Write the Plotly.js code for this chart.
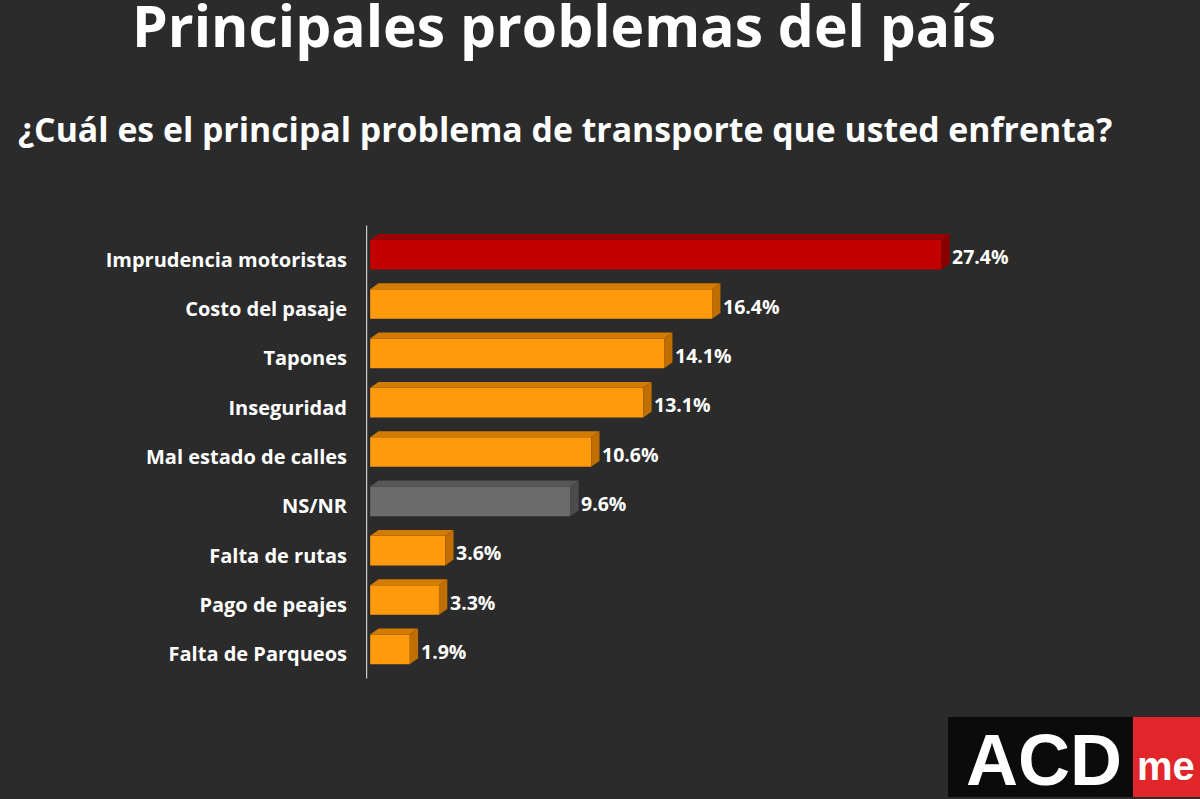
<!DOCTYPE html>
<html>
<head>
<meta charset="utf-8">
<script src="https://cdn.plot.ly/plotly-3.0.1.min.js"></script>
<style>
  html, body { margin: 0; padding: 0; background: #2b2b2b; }
  #chart { width: 1200px; height: 799px; }
</style>
</head>
<body>
<div id="chart"></div>
<script>
// Survey answers: main transport problem (percent of respondents)
const categories = [
  "Imprudencia motoristas",
  "Costo del pasaje",
  "Tapones",
  "Inseguridad",
  "Mal estado de calles",
  "NS/NR",
  "Falta de rutas",
  "Pago de peajes",
  "Falta de Parqueos"
];
const values = [27.4, 16.4, 14.1, 13.1, 10.6, 9.6, 3.6, 3.3, 1.9];
const valueLabels = ["27.4%", "16.4%", "14.1%", "13.1%", "10.6%", "9.6%", "3.6%", "3.3%", "1.9%"];

const titleText = "Principales problemas del país";
const subtitleText = "¿Cuál es el principal problema de transporte que usted enfrenta?";

// Palette: front / top / side faces of the extruded bars
const PAL = {
  top:   { front: "#c20000", lid: "#9c0000", side: "#8a0000" },
  other: { front: "#ff9a0d", lid: "#d27b00", side: "#c06e00" },
  none:  { front: "#6b6b6b", lid: "#575757", side: "#4c4c4c" }
};
function paletteFor(i) {
  if (i === 0) return PAL.top;
  if (categories[i] === "NS/NR") return PAL.none;
  return PAL.other;
}

const idx = categories.map((_, i) => i);
const BAR_W = 0.6;     // bar thickness in row units
const DX = 0.4;        // extrusion depth along x (percent units)
const DY = 0.12;       // extrusion depth along y (row units)

const bars = {
  type: "bar",
  orientation: "h",
  x: values,
  y: idx,
  width: BAR_W,
  marker: { color: idx.map(i => paletteFor(i).front), line: { width: 0 } },
  hoverinfo: "skip"
};

// Extruded top and side faces for each bar
const shapes = [];
idx.forEach(i => {
  const v = values[i];
  const p = paletteFor(i);
  const yt = i - BAR_W / 2;
  const yb = i + BAR_W / 2;
  shapes.push({
    type: "path", xref: "x", yref: "y", layer: "above",
    path: `M 0 ${yt} L ${v} ${yt} L ${v + DX} ${yt - DY} L ${DX} ${yt - DY} Z`,
    fillcolor: p.lid, line: { width: 0 }
  });
  shapes.push({
    type: "path", xref: "x", yref: "y", layer: "above",
    path: `M ${v} ${yt} L ${v + DX} ${yt - DY} L ${v + DX} ${yb - DY} L ${v} ${yb} Z`,
    fillcolor: p.side, line: { width: 0 }
  });
});

// Vertical baseline
shapes.push({
  type: "line", xref: "x", yref: "paper",
  x0: -0.19, x1: -0.19, y0: -0.01, y1: 1.01,
  line: { color: "#c8c8c8", width: 2 }
});

// Brand badge (bottom right)
const M = { l: 366, r: 121, t: 230, b: 125 };
const PW = 1200 - M.l - M.r, PH = 799 - M.t - M.b;
const px = x => (x - M.l) / PW;
const py = y => (799 - M.b - y) / PH;
shapes.push({ type: "rect", xref: "paper", yref: "paper",
  x0: px(948), x1: px(1134), y0: py(797), y1: py(717),
  fillcolor: "#0b0b0b", line: { width: 0 } });
shapes.push({ type: "rect", xref: "paper", yref: "paper",
  x0: px(1133), x1: px(1210), y0: py(797), y1: py(717),
  fillcolor: "#e0262b", line: { width: 0 } });

const annotations = idx.map(i => ({
  x: values[i], y: i, xref: "x", yref: "y",
  text: valueLabels[i], showarrow: false,
  xanchor: "left", yanchor: "middle", xshift: 9, yshift: -2,
  font: { family: "Open Sans, Arial, sans-serif", size: 19.5, color: "#ffffff", weight: 700 }
}));

annotations.push({
  xref: "paper", yref: "paper", x: px(16), y: py(129),
  xanchor: "left", yanchor: "middle", showarrow: false,
  text: "<b>" + subtitleText + "</b>",
  font: { family: "Open Sans, sans-serif", size: 33.8, color: "#ffffff" }
});
annotations.push({
  xref: "paper", yref: "paper", x: px(1044), y: py(760),
  xanchor: "center", yanchor: "middle", showarrow: false,
  text: "<b>ACD</b>",
  font: { family: "Liberation Sans, Arial, sans-serif", size: 72, color: "#ffffff" }
});
annotations.push({
  xref: "paper", yref: "paper", x: px(1135), y: py(766),
  xanchor: "left", yanchor: "middle", showarrow: false,
  text: "<b>me</b>",
  font: { family: "Liberation Sans, Arial, sans-serif", size: 40, color: "#ffffff" }
});

const layout = {
  width: 1200, height: 799,
  paper_bgcolor: "#2b2b2b",
  plot_bgcolor: "rgba(0,0,0,0)",
  margin: M,
  showlegend: false,
  title: {
    text: "<b>" + titleText + "</b>",
    xref: "container", x: 564 / 1200, xanchor: "center",
    yref: "container", y: 1 - 27 / 799, yanchor: "middle",
    font: { family: "Open Sans, sans-serif", size: 57, color: "#ffffff" }
  },
  xaxis: {
    range: [-0.2, 34],
    showgrid: false, zeroline: false, showticklabels: false, showline: false, ticks: ""
  },
  yaxis: {
    range: [8.5, -0.5],
    tickvals: idx, ticktext: categories,
    showgrid: false, zeroline: false, showline: false,
    ticks: "", ticklabelstandoff: 18, ticklabelshift: -5,
    tickfont: { family: "Open Sans, sans-serif", size: 20, color: "#ffffff", weight: 700 }
  },
  shapes: shapes,
  annotations: annotations
};

Plotly.newPlot("chart", [bars], layout, { displayModeBar: false, staticPlot: true });
</script>
</body>
</html>
